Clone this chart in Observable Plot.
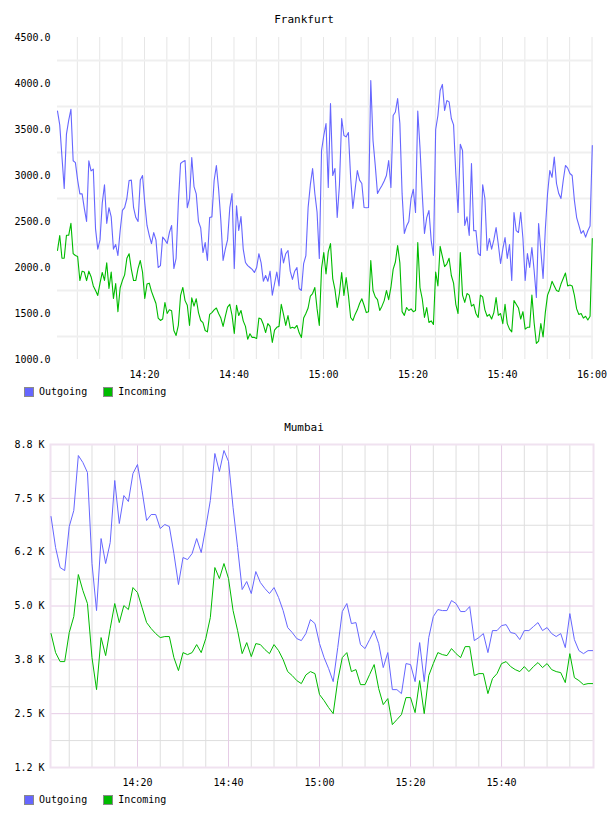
<!DOCTYPE html>
<html><head><meta charset="utf-8">
<script src="https://cdn.jsdelivr.net/npm/d3@7"></script>
<script src="https://cdn.jsdelivr.net/npm/@observablehq/plot@0.6"></script>
<style>
body{margin:0;background:#fff;font-family:"DejaVu Sans Mono",monospace;color:#000;}
#wrap{position:relative;width:608px;height:816px;overflow:hidden;}
.title{position:absolute;left:0;width:608px;text-align:center;font-size:11px;line-height:14px;}
.chart{position:absolute;left:0;}
.legend{position:absolute;left:24px;font-size:10px;line-height:12px;display:flex;align-items:center;}
.sw{display:inline-block;width:8px;height:8px;border:1px solid #8a8a8a;margin-right:5px;}
</style>
</head><body>
<div id="wrap">
  <div class="title" style="top:13px">Frankfurt</div>
  <div class="chart" id="c1" style="top:0"></div>
  <div class="legend" style="top:386px"><span class="sw" style="background:#6666ff"></span><span>Outgoing</span><span class="sw" style="background:#00bb00;margin-left:16px"></span><span>Incoming</span></div>
  <div class="title" style="top:421px">Mumbai</div>
  <div class="chart" id="c2" style="top:410px"></div>
  <div class="legend" style="top:794px"><span class="sw" style="background:#6666ff"></span><span>Outgoing</span><span class="sw" style="background:#00bb00;margin-left:16px"></span><span>Incoming</span></div>
</div>
<script>
// ---------- Frankfurt: one sample every 30 s starting 14:00:34 ----------
const frankfurtStart = "14:00:34";
const frankfurtStepSec = 30;
const frankfurtOutgoing = [
3700,3550,3200,2860,3450,3600,3720,3160,3140,2950,
2800,2800,2640,2500,3160,3050,3070,2420,2200,2300,
2700,2900,2480,2650,2550,2200,2250,2130,2400,2620,
2650,2750,2946,2950,2650,2543,2500,2950,3000,2700,
2457,2350,2260,2380,2300,2000,2020,2330,2300,2260,
2380,2457,1989,2100,2700,3130,3150,3163,2650,2750,
3196,2880,2800,2500,2430,2163,2270,2076,2543,2550,
2946,3109,2850,2511,2076,2200,2300,2650,2804,1989,
2670,2402,2555,2200,2054,2020,2000,1980,1946,2000,
2150,2050,1850,1913,1850,1960,1700,1826,1950,1800,
2206,2050,2150,2185,1960,1870,1960,2000,1772,1750,
2043,2130,2652,2900,3076,2804,2600,2098,3272,3435,
3565,2870,3783,3000,3076,2543,2900,3620,3435,3420,
3467,2978,2641,2850,3054,2950,2913,2652,2650,2652,
4033,3380,3110,2804,2850,2891,2940,3000,3163,2870,
3652,3690,3837,3565,2800,2370,2450,2500,2750,2850,
2598,3700,3300,2800,2370,2543,2620,2293,2130,3500,
3652,3924,3990,3707,3815,3800,3620,3550,3022,2598,
3340,3272,2457,2550,2348,3130,2400,2402,2152,2130,
2900,2750,2185,2315,2200,2300,2435,2250,2043,2200,
2326,2098,2250,1858,2598,2400,2380,2600,2315,1858,
2152,2000,2217,1967,1674,2478,2185,1880,2413,2800,
3054,2980,3200,2913,2804,2750,2946,3109,3080,3022,
3000,2728,2543,2457,2370,2400,2330,2400,2450,3326
];
const frankfurtIncoming = [
2185,2348,2100,2100,2350,2350,2480,2150,2130,2120,
1858,1960,1950,1858,1960,1900,1800,1750,1696,1830,
1946,1860,2050,1772,1950,1663,1826,1520,1780,1858,
1920,2100,2150,1980,1858,1860,1990,2076,1950,1663,
1820,1830,1740,1674,1609,1450,1424,1440,1620,1500,
1540,1530,1315,1261,1370,1696,1783,1640,1590,1370,
1670,1580,1660,1510,1424,1400,1315,1300,1490,1510,
1540,1560,1500,1450,1360,1470,1570,1600,1480,1282,
1590,1478,1533,1420,1360,1220,1280,1240,1240,1228,
1450,1440,1380,1293,1390,1360,1185,1320,1350,1360,
1600,1490,1370,1478,1340,1350,1340,1370,1290,1239,
1450,1500,1560,1690,1717,1783,1550,1370,1990,2163,
1930,2170,2260,1880,1760,1565,1720,1946,1696,1891,
1700,1457,1424,1490,1540,1609,1660,1590,1510,1520,
2076,1750,1680,1650,1533,1580,1640,1750,1650,1783,
1980,2060,2239,2050,1520,1480,1565,1533,1550,1520,
1533,2272,1780,1660,1457,1565,1402,1420,1380,1950,
1800,2230,2120,2010,2040,2100,1913,1830,1600,1500,
2163,1700,1620,1717,1700,1580,1600,1500,1457,1700,
1680,1540,1470,1490,1440,1510,1674,1480,1500,1390,
1600,1390,1330,1300,1641,1600,1560,1440,1520,1330,
1350,1350,1700,1400,1174,1200,1390,1245,1510,1700,
1760,1850,1800,1750,1740,1820,1880,1940,1800,1810,
1800,1696,1550,1490,1500,1450,1470,1430,1470,2315
];
const frankfurtYTicks = [1000,1500,2000,2500,3000,3500,4000,4500];
const frankfurtYGrid = [1250,1750,2250,2750,3250,3750,4250];
const frankfurtXTicks = ["14:20","14:40","15:00","15:20","15:40","16:00"];
const frankfurtXDomain = ["14:00:34","16:00:20"];

// ---------- Mumbai: one sample per minute, 14:01 .. 16:00 ----------
const mumbaiStart = "14:01:00";
const mumbaiStepSec = 60;
const mumbaiOutgoing = [
7077,6357,5893,5823,6845,7217,8494,8332,8100,5986,
4894,6566,5986,6473,7914,6915,7565,7426,8076,8285,
7681,6985,7124,7124,6799,6892,6845,6218,5498,6125,
6078,6218,6566,6241,6822,7449,8541,8123,8610,8355,
7286,6357,5382,5568,5289,5800,5545,5405,5289,5428,
5196,4894,4499,4383,4243,4197,4360,4685,4592,4127,
3802,3546,3244,4034,4871,5057,4592,4615,4104,4011,
4220,4429,4127,3570,3918,3058,3058,2966,3663,3640,
3244,4150,3244,4267,4754,4917,4894,4894,5126,5057,
4871,4871,4987,4197,4267,4360,3918,4429,4429,4545,
4568,4383,4360,4220,4429,4429,4522,4615,4429,4499,
4360,4290,4360,4034,4824,4220,3964,3894,3964,3964
];
const mumbaiIncoming = [
4360,3918,3709,3709,4383,4754,5730,5359,5057,3802,
3058,4267,3848,4476,5057,4615,5010,4917,5428,5312,
4964,4615,4476,4360,4267,4290,4290,3802,3500,3918,
3871,3918,4104,3918,4243,4731,5893,5637,5986,5637,
4894,4429,3894,4150,3825,4127,4104,3988,3894,4104,
3964,3755,3477,3384,3268,3198,3400,3477,3430,2943,
2803,2641,2501,3268,3802,3918,3477,3523,3174,3174,
3407,3640,3082,2710,2850,2246,2362,2478,2873,2873,
2524,3268,2501,3384,3663,3918,3871,3848,4011,3894,
3802,4057,4057,3384,3430,3430,2966,3314,3430,3663,
3709,3593,3523,3477,3593,3477,3593,3686,3570,3663,
3523,3477,3453,3221,3894,3337,3268,3174,3198,3198
];
const mumbaiYTicks = [1250,2500,3750,5000,6250,7500,8750];
const mumbaiYTickLabels = ["1.2 K","2.5 K","3.8 K","5.0 K","6.2 K","7.5 K","8.8 K"];
const mumbaiYMinor = [1875,3125,4375,5625,6875,8125];
const mumbaiXTicks = ["14:20","14:40","15:00","15:20","15:40"];
const mumbaiXDomain = ["14:00:53","16:00:12"];

const seriesColors = {Outgoing:"#6666ff", Incoming:"#00bb00"};

// ---------- helpers ----------
const T = s => { const [h,m,sec] = s.split(":").map(Number); return new Date(2024,0,1,h,m,sec||0); };
const series = (start, step, vals) => vals.map((v,i) => ({t:new Date(+T(start)+i*step*1000), v}));
const fmtHM = d3.timeFormat("%H:%M");
const every5 = (a,b) => d3.timeMinute.every(5).range(T(a), T(b));

const fOut = series(frankfurtStart, frankfurtStepSec, frankfurtOutgoing);
const fIn  = series(frankfurtStart, frankfurtStepSec, frankfurtIncoming);
const mOut = series(mumbaiStart, mumbaiStepSec, mumbaiOutgoing);
const mIn  = series(mumbaiStart, mumbaiStepSec, mumbaiIncoming);

const font = {fontFamily:"DejaVu Sans Mono, monospace", fontSize:"10px", color:"#000", background:"transparent", overflow:"visible"};

const p1 = Plot.plot({
  width:608, height:385,
  marginTop:37, marginBottom:26, marginLeft:57, marginRight:15,
  style:font,
  x:{type:"time", domain:frankfurtXDomain.map(T)},
  y:{domain:[1000,4500]},
  marks:[
    Plot.ruleX(every5("14:05","16:01"), {stroke:"#e6e6e6", strokeWidth:1}),
    Plot.ruleY(frankfurtYGrid, {stroke:"#efefef", strokeWidth:2}),
    Plot.lineY(fOut, {x:"t", y:"v", stroke:seriesColors.Outgoing, strokeWidth:1.1}),
    Plot.lineY(fIn, {x:"t", y:"v", stroke:seriesColors.Incoming, strokeWidth:1.1}),
    Plot.axisY(frankfurtYTicks, {tickSize:0, tickPadding:7, tickFormat:d=>d.toFixed(1), fill:"#000", label:null}),
    Plot.axisX(frankfurtXTicks.map(T), {tickSize:0, tickPadding:11, tickFormat:fmtHM, fill:"#000", label:null})
  ]
});
document.getElementById("c1").appendChild(p1);

const p2 = Plot.plot({
  width:608, height:385,
  marginTop:34, marginBottom:28, marginLeft:50, marginRight:15,
  style:font,
  x:{type:"time", domain:mumbaiXDomain.map(T)},
  y:{domain:[1250,8750]},
  marks:[
    Plot.ruleX(every5("14:05","16:00").filter(d=>d.getMinutes()%20!==0), {stroke:"#dedede", strokeWidth:1}),
    Plot.ruleY(mumbaiYMinor, {stroke:"#dedede", strokeWidth:1}),
    Plot.ruleX(mumbaiXTicks.map(T), {stroke:"#e6cce6", strokeWidth:1}),
    Plot.ruleY(mumbaiYTicks, {stroke:"#e6cce6", strokeWidth:1}),
    Plot.frame({stroke:"#f0e2f0", strokeWidth:2}),
    Plot.lineY(mOut, {x:"t", y:"v", stroke:seriesColors.Outgoing, strokeWidth:1}),
    Plot.lineY(mIn, {x:"t", y:"v", stroke:seriesColors.Incoming, strokeWidth:1}),
    Plot.axisY(mumbaiYTicks, {tickSize:0, tickPadding:6, tickFormat:d=>mumbaiYTickLabels[mumbaiYTicks.indexOf(d)], fill:"#000", label:null}),
    Plot.axisX(mumbaiXTicks.map(T), {tickSize:0, tickPadding:11, tickFormat:fmtHM, fill:"#000", label:null})
  ]
});
document.getElementById("c2").appendChild(p2);
</script>
</body></html>
